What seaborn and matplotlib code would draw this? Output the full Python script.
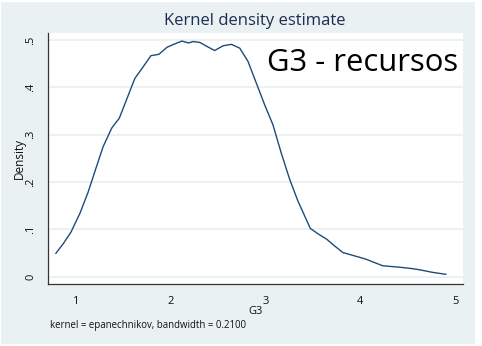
import matplotlib
matplotlib.use("Agg")
import matplotlib.pyplot as plt
from matplotlib.patches import Rectangle
import pandas as pd
import seaborn as sns

# Evaluation grid of the kernel density estimate for G3
g3_points = [0.79, 0.87, 0.95, 1.045, 1.13, 1.22, 1.29, 1.38, 1.46, 1.624,
             1.71, 1.793, 1.877, 1.964, 2.045, 2.12, 2.19, 2.24, 2.31, 2.39,
             2.466, 2.554, 2.642, 2.73, 2.817, 2.905, 2.993, 3.08, 3.168, 3.256,
             3.343, 3.474, 3.56, 3.648, 3.73, 3.817, 3.94, 4.06, 4.238, 4.414,
             4.55, 4.642, 4.765, 4.905]
density = [0.049, 0.070, 0.094, 0.134, 0.178, 0.233, 0.275, 0.314, 0.335, 0.419,
           0.443, 0.467, 0.470, 0.485, 0.492, 0.498, 0.494, 0.497, 0.495, 0.486,
           0.478, 0.488, 0.491, 0.483, 0.455, 0.409, 0.363, 0.321, 0.261, 0.206,
           0.160, 0.102, 0.090, 0.079, 0.065, 0.051, 0.044, 0.037, 0.023, 0.020,
           0.017, 0.014, 0.009, 0.005]

x_ticks = [1, 2, 3, 4, 5]
x_tick_labels = ["1", "2", "3", "4", "5"]
y_ticks = [0, 0.1, 0.2, 0.3, 0.4, 0.5]
y_tick_labels = ["0", ".1", ".2", ".3", ".4", ".5"]

title = "Kernel density estimate"
x_label = "G3"
y_label = "Density"
note = "kernel = epanechnikov, bandwidth = 0.2100"
overlay = "G3 - recursos"

df = pd.DataFrame({"G3": g3_points, "Density": density})

sns.set_style("white")
plt.rcParams["font.family"] = ["Open Sans", "DejaVu Sans"]

W, H = 482, 346
fig = plt.figure(figsize=(W / 100, H / 100), dpi=100)
fig.patch.set_facecolor("white")

# graph region background, kept behind the plot area
bg = "#eaf1f3"
fig.patches.append(Rectangle((1 / W, 1 - 344 / H), 474 / W, 342 / H,
                             transform=fig.transFigure, facecolor=bg,
                             edgecolor="none", zorder=-10))

ax = fig.add_axes([47.7 / W, 1 - 284 / H, (463 - 47.7) / W, (284 - 33) / H])
ax.set_facecolor("white")

sns.lineplot(data=df, x="G3", y="Density", ax=ax, color="#1f4b78",
             linewidth=1.0, sort=False, estimator=None)

ax.set_xlim(0.705, 5.084)
ax.set_ylim(-0.0155, 0.515)

ax.set_xticks(x_ticks)
ax.set_xticklabels(x_tick_labels)
ax.set_yticks(y_ticks)
ax.set_yticklabels(y_tick_labels, rotation=90, va="center")

text_color = "#111111"
ax.tick_params(axis="both", direction="out", length=4, width=0.9,
               color="#333333", labelsize=8, labelcolor=text_color)
ax.tick_params(axis="x", pad=5)
ax.tick_params(axis="y", pad=4)

for side in ("top", "right"):
    ax.spines[side].set_visible(False)
for side in ("left", "bottom"):
    ax.spines[side].set_color("#333333")
    ax.spines[side].set_linewidth(0.9)

ax.grid(axis="y", color=bg, linewidth=1.3)
ax.grid(axis="x", visible=False)
ax.set_axisbelow(True)

ax.set_xlabel(x_label, fontsize=8, color=text_color)
ax.xaxis.set_label_coords(0.5, (284 - 305.5) / 251)
ax.set_ylabel(y_label, fontsize=8.5, color=text_color)
ax.yaxis.set_label_coords((26 - 47.7) / (463 - 47.7), 0.5)

fig.text(255 / W, 1 - 21 / H, title, ha="center", va="center",
         fontsize=12, color="#1e2d4f")
fig.text(50 / W, 1 - 325.5 / H, note, ha="left", va="center",
         fontsize=6.9, color=text_color)
fig.text(267 / W, 1 - 71 / H, overlay, ha="left", va="baseline",
         fontsize=22.3, color="black")

fig.savefig("out.png", dpi=100, facecolor=fig.get_facecolor())
